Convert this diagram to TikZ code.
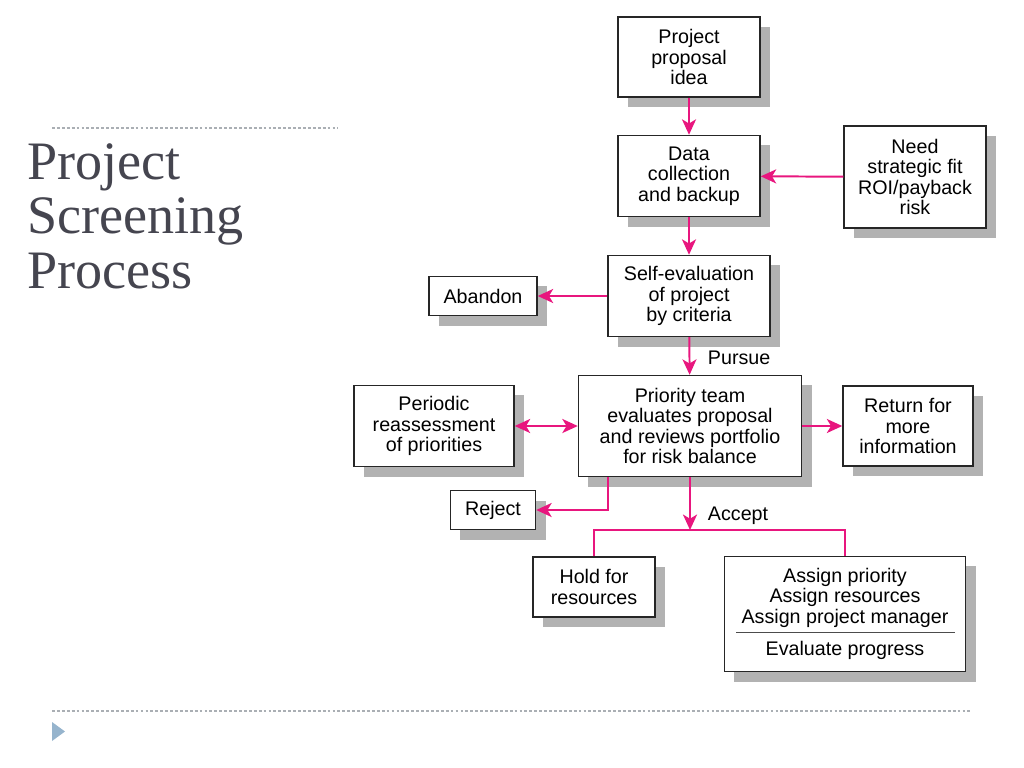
\documentclass[tikz,border=0pt]{standalone}
\usepackage{fontspec}
\setmainfont{Liberation Serif}
\newfontfamily\boxfont{Liberation Sans}
\usepackage{tikz}
\usetikzlibrary{arrows.meta,shapes,positioning,shadows}
\definecolor{scrpink}{RGB}{232,22,126}
\definecolor{scrgray}{RGB}{69,69,79}
\definecolor{scrrule}{RGB}{170,175,180}
\definecolor{scrtri}{RGB}{150,180,205}
\tikzstyle{box} = [draw=black!85, line width=1pt, fill=white, align=center,
  font=\boxfont\fontsize{14}{14.6}\selectfont,
  drop shadow={shadow xshift=0.25cm, shadow yshift=-0.25cm, fill=black!30, opacity=1}]
\tikzstyle{arrow} = [line width=1.4pt,->,>={Stealth[length=11pt,width=10pt,inset=3pt]},color=scrpink]
\tikzstyle{link} = [line width=1.4pt,color=scrpink]
\tikzstyle{tag} = [anchor=west, font=\boxfont\fontsize{14}{14.6}\selectfont]

\begin{document}
\begin{tikzpicture}[x=0.025cm, y=-0.025cm]
\useasboundingbox (0,0) rectangle (1024,768);

% Slide frame
\draw[scrrule, line width=0.8pt, dash pattern=on 2pt off 1.5pt] (52,128) -- (338,128);
\draw[scrrule, line width=0.8pt, dash pattern=on 2pt off 1.5pt] (52,711) -- (972,711);
\fill[scrtri] (52,722) -- (65,731.5) -- (52,741) -- cycle;
\node[anchor=north west, align=left, inner sep=0pt, text=scrgray,
  font=\fontsize{38.5}{39}\selectfont] (title) at (27,143) {Project\\Screening\\Process};

% Boxes
\node[box, minimum width=3.55cm, minimum height=2cm] (proposal) at (689,57) {Project\\proposal\\idea};
\node[box, minimum width=3.55cm, minimum height=2.025cm] (data) at (689,176) {Data\\collection\\and backup};
\node[box, minimum width=3.55cm, minimum height=2.55cm] (need) at (915,177) {Need\\strategic fit\\ROI/payback\\risk};
\node[box, minimum width=4.05cm, minimum height=2.025cm] (self) at (689,296) {Self-evaluation\\of project\\by criteria};
\node[box, minimum width=2.7cm, minimum height=0.975cm] (abandon) at (483,296) {Abandon};
\node[box, minimum width=5.575cm, minimum height=2.525cm] (priority) at (690,426) {Priority team\\evaluates proposal\\and reviews portfolio\\for risk balance};
\node[box, minimum width=4cm, minimum height=2.025cm] (periodic) at (434,426) {Periodic\\reassessment\\of priorities};
\node[box, minimum width=3.25cm, minimum height=2cm] (return) at (908,426) {Return for\\more\\information};
\node[box, minimum width=2.125cm, minimum height=0.975cm] (reject) at (493,510) {Reject};
\node[box, minimum width=3.05cm, minimum height=1.5cm] (hold) at (594,587) {Hold for\\resources};
\node[box, minimum width=6.025cm, minimum height=2.875cm] (assign) at (845,614)
  {Assign priority\\Assign resources\\Assign project manager\\[0.3cm]Evaluate progress};
\draw[black!70, line width=0.6pt] (736,632) -- (955,632);

% Connectors
\draw[arrow] (proposal) -- (data);
\draw[arrow] (need) -- (data);
\draw[arrow] (data) -- (self);
\draw[arrow] (self) -- (abandon);
\draw[arrow] (self) -- (priority);
\node[tag] (pursue) at (703,358) {Pursue};
\draw[arrow, <->] (periodic) -- (priority);
\draw[arrow] (priority) -- (return);
\draw[arrow] (priority.south -| 608,0) |- (reject.east);
\coordinate (split) at (priority.south |- 0,530);
\draw[arrow] (priority.south) -- (split);
\node[tag] (accept) at (703,516) {Accept};
\draw[link] (hold.north) |- (split) -| (assign.north);
\end{tikzpicture}
\end{document}
